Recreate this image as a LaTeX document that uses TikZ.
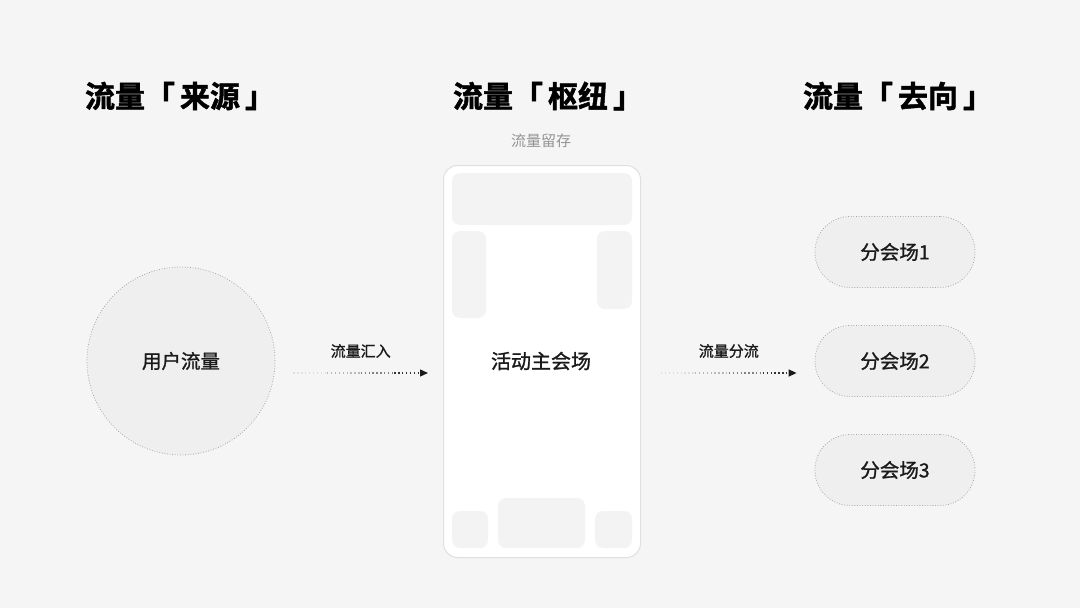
\documentclass[tikz,border=0pt]{standalone}
\usepackage{fontspec}
\usepackage{tikz}
\usetikzlibrary{calc, arrows.meta, positioning}
\newfontfamily\cjk{Noto Sans CJK SC}
\newfontfamily\cjkmid[FakeBold=1.1]{Noto Sans CJK SC}
\newfontfamily\cjkheavy[FakeBold=1.6]{Noto Sans CJK SC Bold}
\definecolor{pagebg}{HTML}{F5F5F5}
\definecolor{blobfill}{HTML}{EFEFEF}
\definecolor{slotfill}{HTML}{F3F3F3}
\definecolor{ink}{HTML}{1A1A1A}
\newcommand{\bgap}{\hspace{5pt}}

\tikzset{
    heading/.style={font=\cjkheavy\fontsize{30}{30}\selectfont, text=black},
    bodytext/.style={font=\cjkmid\fontsize{19.5}{20}\selectfont, text=ink},
    smalltext/.style={font=\cjkmid\fontsize{15}{15}\selectfont, text=ink},
    dotborder/.style={draw=black!35, line width=0.8pt, dash pattern=on 0.8pt off 1.8pt, fill=blobfill},
    slot/.style={fill=slotfill, rounded corners=8pt},
    flowline/.style={line width=1.3pt, dash pattern=on 1.3pt off 2.6pt}
}

\begin{document}
\begin{tikzpicture}[x=1pt, y=-1pt]
    % Background
    \fill[pagebg] (0,0) rectangle (1080,608);
    \useasboundingbox (0,0) rectangle (1080,608);

    % Column headings
    \node[heading] (h-source) at (180,96) {流量「\bgap 来源\bgap 」};
    \node[heading] (h-hub) at (548,96) {流量「\bgap 枢纽\bgap 」};
    \node[heading] (h-target) at (898,96) {流量「\bgap 去向\bgap 」};
    \node[font=\cjk\fontsize{15}{15}\selectfont, text=black!42] (keep) at (541,141) {流量留存};

    % User traffic circle
    \node[dotborder, circle, minimum size=188pt, bodytext] (user) at (181,361) {用户流量};

    % Main venue as a phone screen
    \node[draw=black!12, line width=1pt, fill=white, rounded corners=14pt,
          minimum width=197pt, minimum height=392pt, anchor=north west] (main) at (443,165) {};
    \fill[slot] (452,173) rectangle (632,225);
    \fill[slot] (452,231) rectangle (486,318);
    \fill[slot] (597,231) rectangle (632,309);
    \fill[slot] (452,511) rectangle (488,548);
    \fill[slot] (498,498) rectangle (585,548);
    \fill[slot] (595,511) rectangle (632,548);
    \node[font=\cjkmid\fontsize{20}{20}\selectfont, text=ink] (main-label) at (541,361) {活动主会场};

    % Sub venues
    \foreach \i/\y in {1/252,2/361,3/470}
        \node[dotborder, rounded corners=35pt, minimum width=160pt, minimum height=71pt, bodytext] (sub\i) at (895,\y) {分会场\i};

    % Flow arrows, fading in from the left
    \coordinate (in-s) at ([xshift=18pt, yshift=-12pt]user.east);
    \coordinate (in-t) at ([xshift=-15pt]in-s -| main.west);
    \coordinate (out-s) at ([xshift=20pt]in-s -| main.east);
    \coordinate (out-t) at ([xshift=-18pt]out-s -| sub2.west);
    \foreach \s/\t in {in-s/in-t, out-s/out-t} {
        \foreach \a/\b/\c in {0/0.25/12, 0.25/0.5/28, 0.5/0.75/50, 0.75/0.97/80}
            \draw[flowline, black!\c] ($(\s)!\a!(\t)$) -- ($(\s)!\b!(\t)$);
        \draw[-{Triangle[length=8pt, width=7pt]}, line width=1.3pt, ink] ($(\s)!0.97!(\t)$) -- (\t);
    }
    \node[smalltext] (in-label) at ($(in-s)!0.5!(in-t) + (0,-22)$) {流量汇入};
    \node[smalltext] (out-label) at ($(out-s)!0.5!(out-t) + (0,-22)$) {流量分流};
\end{tikzpicture}
\end{document}
